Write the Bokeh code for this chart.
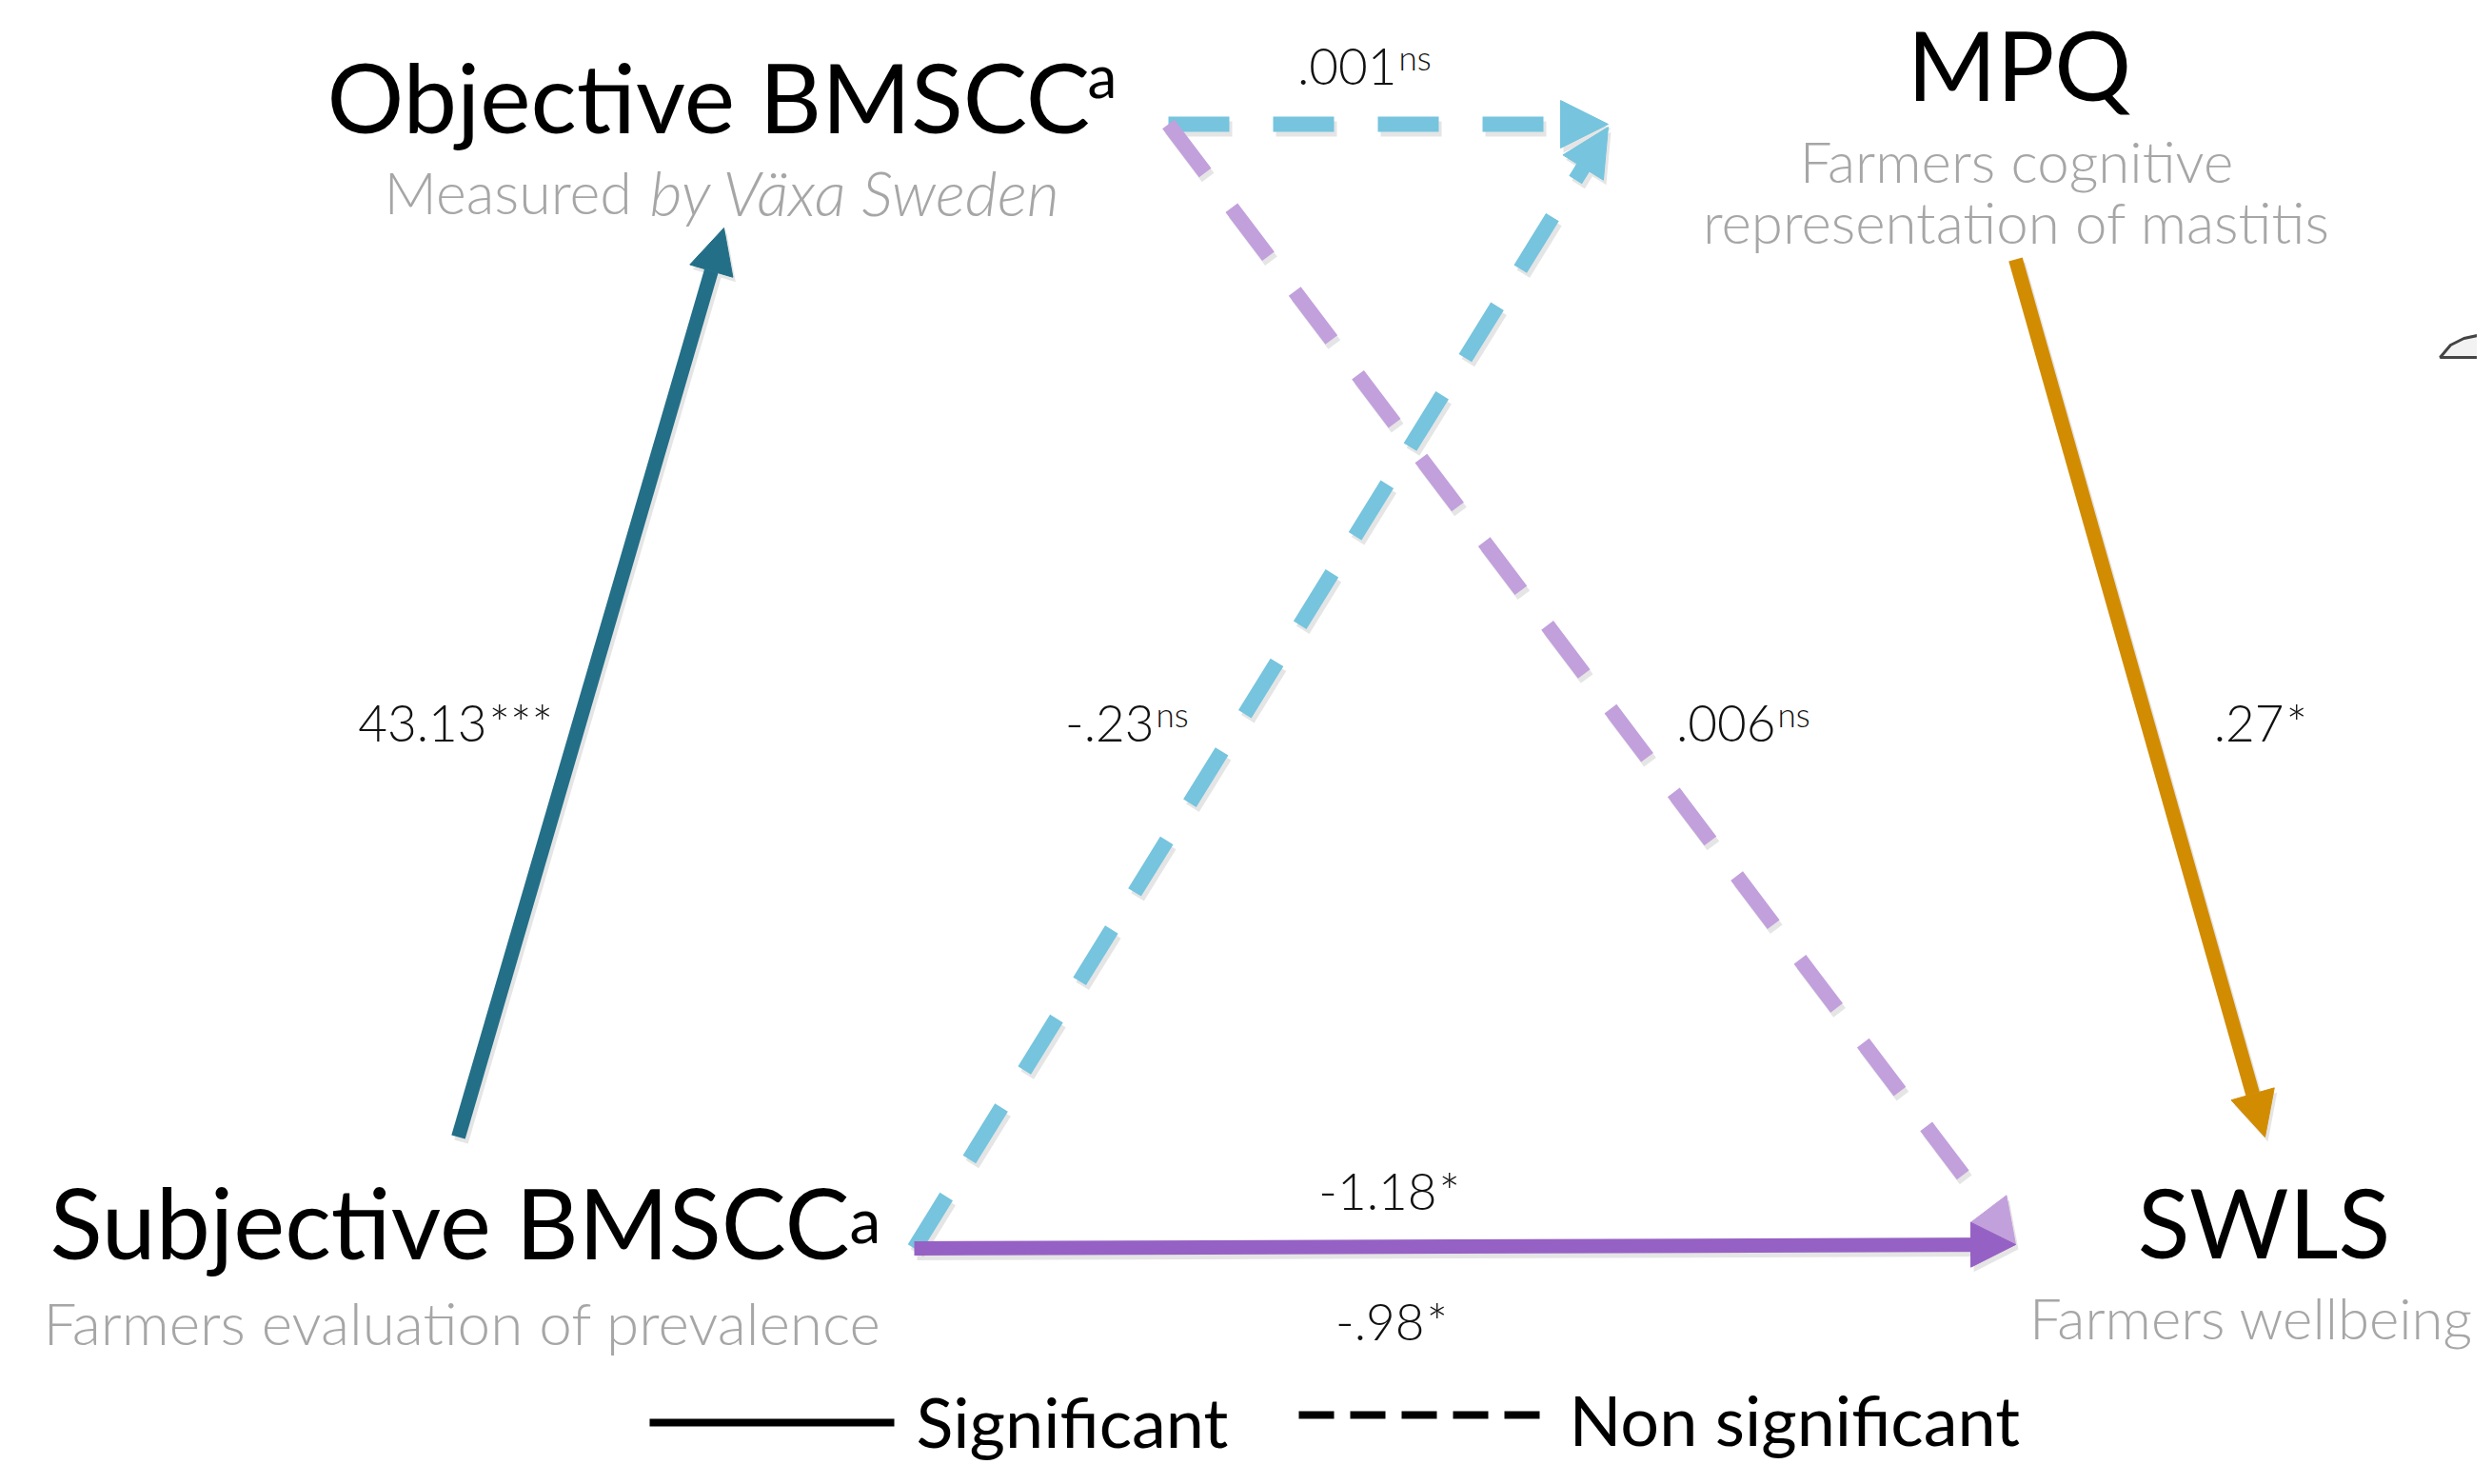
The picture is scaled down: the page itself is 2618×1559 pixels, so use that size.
from bokeh.plotting import figure
from bokeh.models import Range1d, Arrow, NormalHead
from bokeh.core.properties import value
from bokeh.embed import file_html
from bokeh.resources import INLINE

# ---------------- data ----------------
constructs = ["Subjective BMSCC", "Objective BMSCC", "MPQ", "SWLS"]
construct_sup = ["a", "a", "", ""]
construct_desc = [["Farmers evaluation of prevalence"],
                  ["Measured ", "by Växa Sweden"],
                  ["Farmers cognitive", "representation of mastitis"],
                  ["Farmers wellbeing"]]

path_source = ["Subjective BMSCC", "Objective BMSCC", "Subjective BMSCC",
               "Objective BMSCC", "MPQ", "Subjective BMSCC"]
path_target = ["Objective BMSCC", "MPQ", "MPQ", "SWLS", "SWLS", "SWLS"]
path_coef = ["43.13", ".001", "-.23", ".006", ".27", "-1.18"]
path_sig = ["***", "ns", "ns", "ns", "*", "*"]
total_coef = "-.98"
total_sig = "*"

legend_labels = ["Significant", "Non significant"]

# ---------------- layout / style ----------------
W, H = 2602, 1543
p = figure(width=W, height=H, x_range=Range1d(8, 8 + W), y_range=Range1d(8 + H, 8),
           output_backend="svg", toolbar_location=None, min_border=0,
           background_fill_color="white", border_fill_color="white")
p.axis.visible = False
p.grid.visible = False
p.outline_line_color = None

FONT = value("Lato")
LIGHT = value("Lato Light")
GREY = "#a6a6a6"

path_colors = ["#236f87", "#76c4de", "#76c4de", "#c2a0dc", "#d28c02", "#9661c4"]
path_geom = [  # x0, y0, x1, y1 (arrow tail -> tip)
    (489, 1202, 768, 247),
    (1235, 138, 1697, 138),
    (968, 1319, 1697, 141),
    (1235, 138, 2125, 1315),
    (2125, 280, 2387, 1202),
    (968, 1319, 2125, 1315),
]
head_size = [47, 50, 50, 47, 47, 47]
label_pos = [(519, 767), (1475, 77), (1220, 767), (1873, 767), (2407, 767), (1517, 1259)]
total_pos = (1504, 1396)

# arrows (shadow first, then arrow)
for i in range(len(path_coef)):
    x0, y0, x1, y1 = path_geom[i]
    solid = path_sig[i] != "ns"
    dash = "solid" if solid else "64 46"
    lw = 15 if solid else 16
    sh = Arrow(x_start=x0 + 3, y_start=y0 + 5, x_end=x1 + 3, y_end=y1 + 5,
               line_color="#000000", line_alpha=0.10, line_width=lw, line_dash=dash,
               end=NormalHead(size=head_size[i], fill_color="#000000", fill_alpha=0.10,
                              line_alpha=0))
    p.add_layout(sh)
for i in range(len(path_coef)):
    x0, y0, x1, y1 = path_geom[i]
    solid = path_sig[i] != "ns"
    dash = "solid" if solid else "64 46"
    lw = 15 if solid else 16
    c = path_colors[i]
    ar = Arrow(x_start=x0, y_start=y0, x_end=x1, y_end=y1,
               line_color=c, line_width=lw, line_dash=dash,
               end=NormalHead(size=head_size[i], fill_color=c, line_color=c, line_width=1))
    p.add_layout(ar)

# coefficient labels
num_x = [lp[0] for lp in label_pos] + [total_pos[0]]
num_y = [lp[1] for lp in label_pos] + [total_pos[1]]
nums = path_coef + [total_coef]
sigs = path_sig + [total_sig]
p.text(x=num_x, y=num_y, text=nums, text_font=LIGHT, text_font_size="53px",
       text_align="right", text_baseline="middle", text_color="#111111")
star_i = [i for i, s in enumerate(sigs) if s != "ns"]
ns_i = [i for i, s in enumerate(sigs) if s == "ns"]
p.text(x=[num_x[i] + 2 for i in star_i], y=[num_y[i] for i in star_i],
       text=[sigs[i] for i in star_i], text_font=LIGHT, text_font_size="53px",
       text_align="left", text_baseline="middle", text_color="#111111")
p.text(x=[num_x[i] + 2 for i in ns_i], y=[num_y[i] - 10 for i in ns_i],
       text=[sigs[i] for i in ns_i], text_font=LIGHT, text_font_size="35px",
       text_align="left", text_baseline="middle", text_color="#111111")

# construct names
name_pos = {"Subjective BMSCC": (60, 1291, "left", "102px"),
            "Objective BMSCC": (351, 108, "left", "101px"),
            "MPQ": (2129, 74, "center", "101px"),
            "SWLS": (2386, 1290, "center", "101px")}
sup_pos = {"Subjective BMSCC": (900, 1288, "66px"), "Objective BMSCC": (1150, 86, "62px")}
for k, name in enumerate(constructs):
    x, y, al, fs = name_pos[name]
    p.text(x=[x], y=[y], text=[name], text_font=FONT, text_font_size=fs,
           text_align=al, text_baseline="middle", text_color="black")
    if construct_sup[k]:
        sx, sy, sfs = sup_pos[name]
        p.text(x=[sx], y=[sy], text=[construct_sup[k]], text_font=FONT, text_font_size=sfs,
               text_align="left", text_baseline="middle", text_color="black")

# descriptions
p.text(x=[53], y=[1396], text=[construct_desc[0][0]], text_font=LIGHT, text_font_size="62px",
       text_align="left", text_baseline="middle", text_color=GREY)
p.text(x=[411], y=[209], text=[construct_desc[1][0]], text_font=LIGHT, text_font_size="61px",
       text_align="left", text_baseline="middle", text_color=GREY)
p.text(x=[690], y=[209], text=[construct_desc[1][1]], text_font=LIGHT, text_font_size="66px",
       text_font_style="italic", text_align="left", text_baseline="middle", text_color=GREY)
p.text(x=[2126, 2126], y=[176, 240], text=construct_desc[2], text_font=LIGHT,
       text_font_size="60px", text_align="center", text_baseline="middle", text_color=GREY)
p.text(x=[2606], y=[1391], text=[construct_desc[3][0]], text_font=LIGHT, text_font_size="60px",
       text_align="right", text_baseline="middle", text_color=GREY)

# legend
p.segment(x0=[690], y0=[1502], x1=[947], y1=[1502], line_color="black", line_width=8)
p.segment(x0=[1372], y0=[1494], x1=[1628], y1=[1494], line_color="black", line_width=8,
          line_dash="37 17")
p.text(x=[970, 1656], y=[1500, 1498], text=legend_labels, text_font=FONT, text_font_size="72px",
       text_align="left", text_baseline="middle", text_color="black")

# clipped fragment of a picture at the right edge
p.patch(x=[2571, 2582, 2596, 2610, 2618, 2618, 2571], y=[383, 370, 363, 360, 359, 383, 383],
        fill_color="#f2f2f2", line_color="#444444", line_width=3)

open("out.html", "w").write(file_html(p, INLINE))
